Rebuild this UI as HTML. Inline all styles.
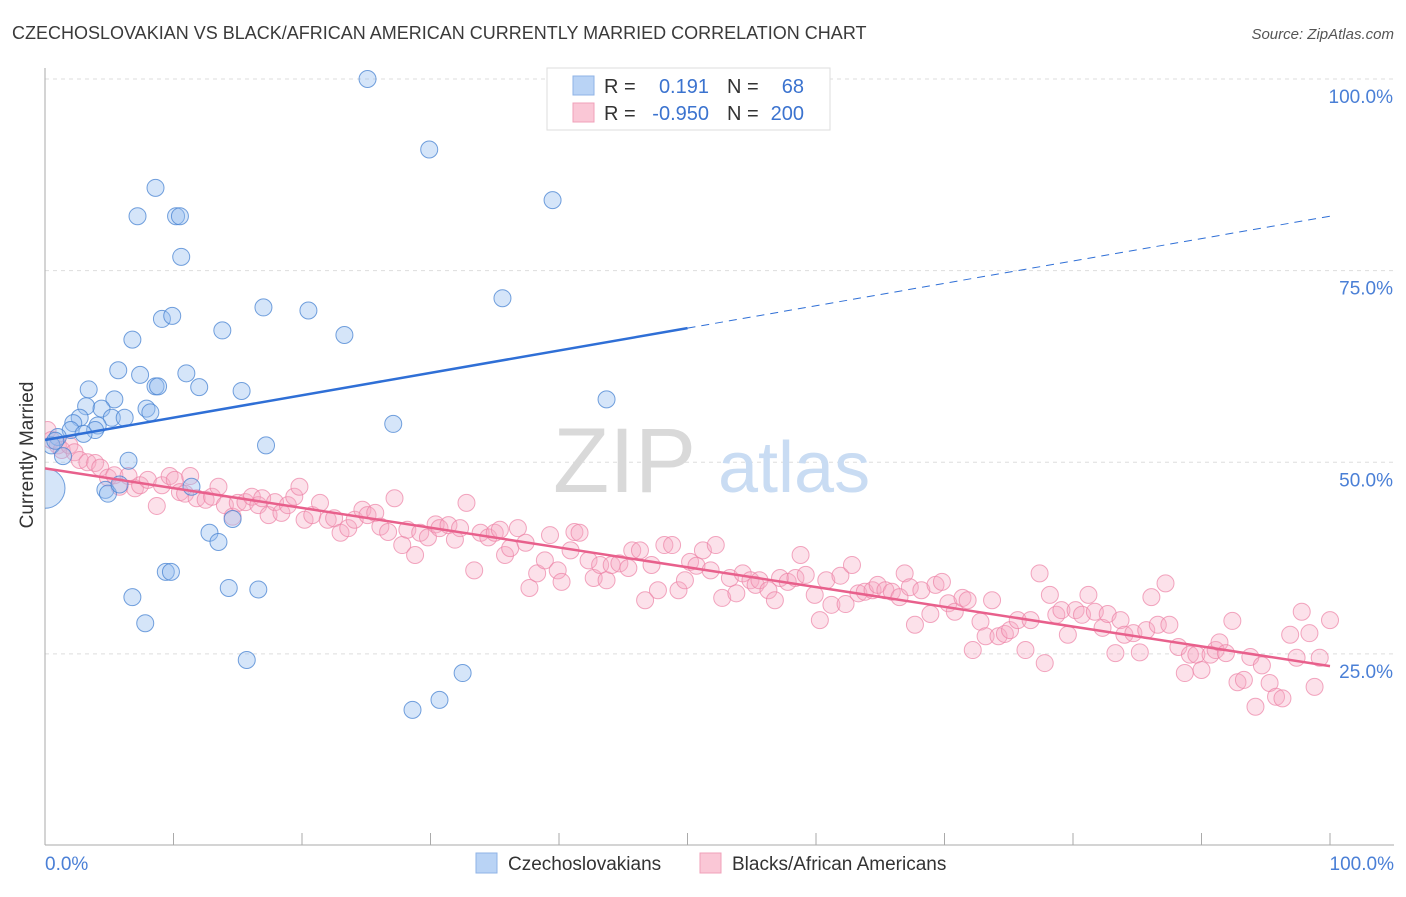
<!DOCTYPE html>
<html><head><meta charset="utf-8"><style>
body{margin:0;background:#fff;font-family:"Liberation Sans",sans-serif}
svg text{font-family:"Liberation Sans",sans-serif}
</style></head><body>
<svg id="chart" width="1406" height="892">
<defs><clipPath id="plotclip"><rect x="45" y="60" width="1360" height="786"/></clipPath></defs>
<text x="12" y="39" font-size="18" fill="#3a3a3a">CZECHOSLOVAKIAN VS BLACK/AFRICAN AMERICAN CURRENTLY MARRIED CORRELATION CHART</text>
<text x="1394" y="39" font-size="15" fill="#555" text-anchor="end" font-style="italic">Source: ZipAtlas.com</text>
<g id="grid"></g>
<text x="553" y="492" font-size="92" fill="#d9d9d9" font-family="Liberation Serif">ZIP</text>
<text x="718" y="492" font-size="72" fill="#c9dcf3">atlas</text>
<g id="pts" clip-path="url(#plotclip)"></g>
<g id="lines"></g>
<text transform="translate(33,455) rotate(-90)" font-size="19" fill="#333" text-anchor="middle">Currently Married</text>
<g>
<rect x="547" y="68" width="283" height="62" fill="#fff" stroke="#ddd"/>
<rect x="573" y="76" width="21" height="19" fill="#b9d3f5" stroke="#8fb3e6"/>
<rect x="573" y="103" width="21" height="19" fill="#fac7d6" stroke="#f0a0b9"/>
<text x="604" y="93" font-size="20" fill="#333">R =</text>
<text x="709" y="93" font-size="20" fill="#3b73cf" text-anchor="end">0.191</text>
<text x="727" y="93" font-size="20" fill="#333">N =</text>
<text x="804" y="93" font-size="20" fill="#3b73cf" text-anchor="end">68</text>
<text x="604" y="120" font-size="20" fill="#333">R =</text>
<text x="709" y="120" font-size="20" fill="#3b73cf" text-anchor="end">-0.950</text>
<text x="727" y="120" font-size="20" fill="#333">N =</text>
<text x="804" y="120" font-size="20" fill="#3b73cf" text-anchor="end">200</text>
</g>
<g>
<rect x="476" y="853" width="21" height="20" fill="#b9d3f5" stroke="#8fb3e6"/>
<text x="508" y="870" font-size="19" fill="#333">Czechoslovakians</text>
<rect x="700" y="853" width="21" height="20" fill="#fac7d6" stroke="#f0a0b9"/>
<text x="732" y="870" font-size="19" fill="#333">Blacks/African Americans</text>
</g>
</svg>
<script>
const yTicks=[100,75,50,25];
const yTickLabels=["100.0%","75.0%","50.0%","25.0%"];
const xTicks=[0,10,20,30,40,50,60,70,80,90,100];
const blueX=[25.1,29.9,8.6,7.2,10.2,10.5,39.5,10.6,17.0,20.5,9.1,9.9,13.8,23.3,35.6,6.8,5.7,7.4,11.0,8.6,8.8,12.0,15.3,3.4,5.4,3.2,4.4,7.9,8.2,2.7,5.2,6.2,2.2,4.1,3.9,2.0,3.0,1.0,0.5,0.8,1.4,27.1,43.7,17.2,6.5,4.7,4.9,5.8,11.4,14.6,12.8,13.5,9.4,9.8,14.3,16.6,6.8,7.8,15.7,32.5,30.7,28.6,49.9];
const blueY=[100,90.8,85.8,82.1,82.1,82.1,84.2,76.8,70.2,69.8,68.7,69.1,67.2,66.6,71.4,66.0,62.0,61.4,61.6,59.9,59.9,59.8,59.3,59.5,58.2,57.3,57.0,57.0,56.5,55.8,55.8,55.8,55.1,54.8,54.2,54.2,53.7,53.3,52.2,52.8,50.8,55.0,58.2,52.2,50.2,46.4,45.9,47.1,46.8,42.6,40.8,39.6,35.7,35.7,33.6,33.4,32.4,29.0,24.2,22.5,19.0,17.7,100];
const pinkX=[0.2,0.5,1.0,1.3,1.9,2.3,2.7,3.3,3.9,4.3,4.9,5.4,5.8,6.5,7.0,7.4,8.0,8.7,9.1,9.7,10.1,10.5,10.9,11.3,11.8,12.5,13.0,13.5,14.0,14.6,15.0,15.6,16.1,16.6,16.9,17.4,17.9,18.4,18.9,19.4,19.8,20.2,20.8,21.4,22.0,22.5,23.0,23.6,24.1,24.7,25.1,25.7,26.1,26.7,27.2,27.8,28.2,28.8,29.2,29.8,30.4,30.7,31.4,31.9,32.3,32.8,33.4,33.9,34.5,35.0,35.4,35.8,36.2,36.8,37.4,37.7,38.3,38.9,39.3,39.9,40.2,40.9,41.2,41.6,42.3,42.7,43.2,43.7,44.1,44.7,45.4,45.7,46.3,46.7,47.2,47.7,48.2,48.8,49.3,49.8,50.2,50.7,51.2,51.8,52.2,52.7,53.3,53.8,54.3,54.9,55.3,55.6,56.3,56.8,57.2,57.8,58.4,58.8,59.2,59.9,60.3,60.8,61.2,61.9,62.3,62.8,63.3,63.8,64.4,64.8,65.4,65.9,66.5,66.9,67.3,67.7,68.2,68.9,69.3,69.8,70.3,70.8,71.4,71.8,72.2,72.8,73.2,73.7,74.2,74.7,75.1,75.7,76.3,76.7,77.4,77.8,78.2,78.7,79.1,79.6,80.2,80.7,81.2,81.7,82.3,82.7,83.3,83.7,84.0,84.7,85.2,85.7,86.1,86.6,87.2,87.5,88.2,88.7,89.1,89.6,90.0,90.7,91.1,91.4,91.9,92.4,92.8,93.3,93.8,94.2,94.7,95.3,95.8,96.3,96.9,97.4,97.8,98.4,98.8,99.2,100];
const pinkY=[54.2,52.9,52.2,51.6,52.2,51.3,50.3,50.0,49.9,49.3,48.0,48.3,46.8,48.2,46.6,47.0,47.7,44.3,47.0,48.2,47.7,46.1,45.9,48.2,45.3,45.1,45.5,46.8,44.4,42.9,44.7,44.8,45.5,44.4,45.3,43.1,44.8,43.4,44.4,45.5,46.8,42.5,43.1,44.7,42.5,42.7,40.8,41.4,42.5,43.8,43.1,43.4,41.6,40.9,45.3,39.2,41.2,37.9,40.8,40.2,41.9,41.4,41.8,39.9,41.4,44.7,35.9,40.8,40.2,40.8,41.2,37.9,38.8,41.4,39.5,33.6,35.5,37.2,40.5,35.9,34.4,38.5,40.9,40.8,37.2,34.9,36.6,34.6,36.6,36.8,36.2,38.5,38.5,32.0,36.6,33.3,39.2,39.2,33.3,34.6,37.0,36.5,38.5,35.9,39.2,32.3,34.9,32.9,35.5,34.6,34.0,34.6,33.3,32.0,34.9,34.4,34.9,37.9,35.3,32.7,29.4,34.6,31.4,35.2,31.5,36.6,32.9,33.1,33.3,34.0,33.3,33.1,32.4,35.5,33.7,28.8,33.3,30.2,34.0,34.4,31.6,30.5,32.3,32.0,25.5,29.2,27.3,32.0,27.3,27.6,28.1,29.4,25.5,29.4,35.5,23.8,32.7,30.1,30.7,27.5,30.7,30.1,32.7,30.5,28.4,30.2,25.1,29.4,27.5,27.7,25.2,28.1,32.4,28.8,34.2,28.8,25.9,22.5,24.9,24.9,22.9,24.9,25.5,26.5,25.1,29.3,21.3,21.6,24.6,18.1,23.5,21.2,19.4,19.2,27.5,24.5,30.5,27.7,20.7,24.5,29.4];
const blueLine=[52.9,0.292];
const pinkLine=[49.2,-0.258];
const X0=45,X1=1330,Y0=845.5,Y100=79;
const sx=v=>X0+(X1-X0)*v/100;
const sy=v=>Y0-(Y0-Y100)*v/100;
const NS='http://www.w3.org/2000/svg';
function mk(tag,attrs,parent){const e=document.createElementNS(NS,tag);for(const k in attrs)e.setAttribute(k,attrs[k]);parent.appendChild(e);return e;}
const grid=document.getElementById('grid');
yTicks.forEach((t,i)=>{
 const l=mk('line',{x1:45,x2:1394,y1:sy(t),y2:sy(t),stroke:'#ddd','stroke-dasharray':'4,4'},grid);
 
 
 const tx=mk('text',{x:1393,y:sy(t)+24,'font-size':19,fill:'#4a7fd6','text-anchor':'end'},grid);
 tx.textContent=yTickLabels[i];
 
 
});
const ax=mk('line',{x1:45,x2:1394,y1:845,y2:845,stroke:'#aaa'},grid);


const ay=mk('line',{x1:45,x2:45,y1:68,y2:845,stroke:'#aaa'},grid);


xTicks.forEach(t=>{
 const l=mk('line',{x1:sx(t),x2:sx(t),y1:833,y2:845,stroke:'#aaa'},grid);
 
 
});
[[0,'0.0%','start',45],[100,'100.0%','end',1394]].forEach(a=>{
 const tx=mk('text',{x:a[3],y:870,'font-size':19,fill:'#4a7fd6','text-anchor':a[2]},grid);
 tx.textContent=a[1];
 
 
});
const pts=document.getElementById('pts');
pinkX.forEach((x,i)=>{
 const c=mk('circle',{cx:sx(x),cy:sy(pinkY[i]),r:8.5,fill:'rgba(246,170,195,0.35)',stroke:'rgba(236,130,165,0.7)','stroke-width':1},pts);
 
 
});
blueX.forEach((x,i)=>{
 const c=mk('circle',{cx:sx(x),cy:sy(blueY[i]),r:8.5,fill:'rgba(150,190,240,0.4)',stroke:'rgba(70,130,210,0.75)','stroke-width':1},pts);
 
 
});
const big=mk('circle',{cx:sx(0),cy:sy(46.6),r:20,fill:'rgba(150,190,240,0.4)',stroke:'rgba(70,130,210,0.75)'},pts);


const lines=document.getElementById('lines');
const bl=v=>blueLine[0]+blueLine[1]*v, pl=v=>pinkLine[0]+pinkLine[1]*v;
const b1=mk('line',{x1:sx(0),y1:sy(bl(0)),x2:sx(50),y2:sy(bl(50)),stroke:'#2f6fd6','stroke-width':2.5},lines);


const b2=mk('line',{x1:sx(50),y1:sy(bl(50)),x2:sx(100),y2:sy(bl(100)),stroke:'#2f6fd6','stroke-width':1,'stroke-dasharray':'8,6'},lines);


const p1=mk('line',{x1:sx(0),y1:sy(pl(0)),x2:sx(100),y2:sy(pl(100)),stroke:'#e8608c','stroke-width':2.5},lines);


</script>
</body></html>
